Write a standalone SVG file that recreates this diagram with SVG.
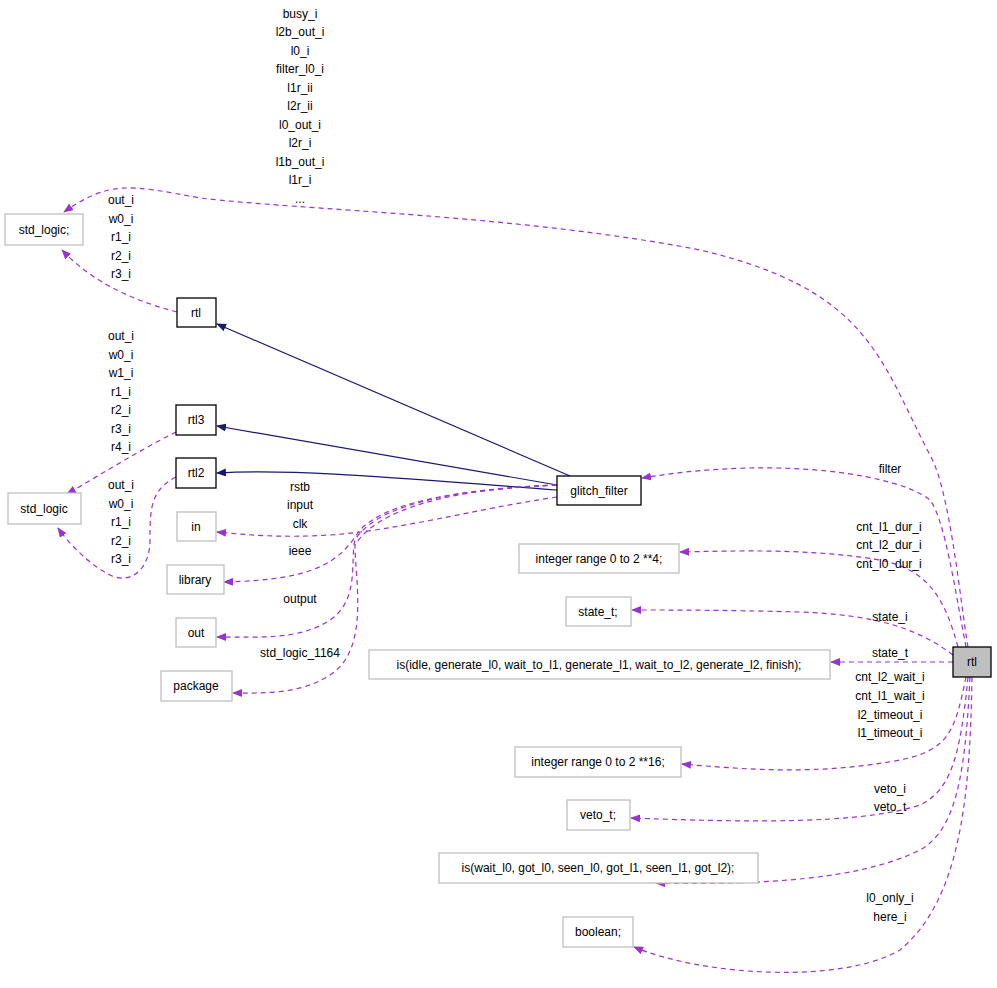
<svg xmlns="http://www.w3.org/2000/svg" width="997" height="988" viewBox="0 0 997 988">
<defs>
<marker id="ap" markerWidth="10" markerHeight="8" refX="9" refY="4" orient="auto" markerUnits="userSpaceOnUse"><path d="M0,0 L10,4 L0,8 Z" fill="#9a32cd"/></marker>
<marker id="an" markerWidth="10" markerHeight="8" refX="9" refY="4" orient="auto" markerUnits="userSpaceOnUse"><path d="M0,0 L10,4 L0,8 Z" fill="#191970"/></marker>
</defs>
<style>
text{font-family:"Liberation Sans",Arial,sans-serif;font-size:12px;fill:#000;text-anchor:middle}
.g rect{fill:#fff;stroke:#bfbfbf;stroke-width:1.3}
.b rect{fill:#fff;stroke:#000;stroke-width:1.3}
.d{fill:none;stroke:#9a32cd;stroke-dasharray:5,4;stroke-width:1.2;marker-end:url(#ap)}
.s{fill:none;stroke:#191970;stroke-width:1.2;marker-end:url(#an)}
</style>
<rect width="997" height="988" fill="#fff"/>
<g id="connectors">
<path class="d" d="M968,647 C960,600 950,490 930,455 C880,360 870,290 700,250 C520,215 300,210 200,198 C130,185 110,180 64,212"/>
<path class="d" d="M177,312 C130,300 90,280 62,250"/>
<path class="d" d="M176,432 C140,450 100,475 67,494"/>
<path class="d" d="M176,477 C150,490 150,510 150,540 C150,570 130,585 110,575 C90,565 70,545 58,528"/>
<path class="s" d="M570,476 L217,324"/>
<path class="s" d="M557,485 L217,426"/>
<path class="s" d="M557,490 C420,480 300,468 217,473"/>
<path class="d" d="M557,497 C470,510 400,530 330,535 C280,538 250,535 217,532"/>
<path class="d" d="M557,485 C420,492 380,510 360,530 C340,560 320,580 224,582"/>
<path class="d" d="M557,485 C420,490 370,515 355,540 C350,560 360,600 330,620 C300,640 260,637 217,637"/>
<path class="d" d="M557,485 C420,490 370,520 355,545 C355,580 370,650 330,675 C300,695 260,693 233,693"/>
<path class="d" d="M966,647 C955,590 945,520 930,500 C900,475 780,455 642,478"/>
<path class="d" d="M958,647 C945,600 930,570 880,560 C820,550 760,550 680,552"/>
<path class="d" d="M953,655 C920,630 880,615 800,612 C720,610 680,610 632,610"/>
<path class="d" d="M953,662 L831,662"/>
<path class="d" d="M966,677 C955,730 950,750 900,760 C820,775 750,770 682,764"/>
<path class="d" d="M968,677 C960,760 950,790 920,805 C860,825 740,822 631,818"/>
<path class="d" d="M970,677 C965,780 955,830 920,850 C860,880 760,885 656,883"/>
<path class="d" d="M972,677 C970,800 960,900 900,950 C840,985 700,975 634,947"/>
</g>
<g id="labels">
<text x="300" y="18">busy_i</text><text x="300" y="36">l2b_out_i</text><text x="300" y="55">l0_i</text><text x="300" y="73">filter_l0_i</text><text x="300" y="92">l1r_ii</text><text x="300" y="110">l2r_ii</text><text x="300" y="129">l0_out_i</text><text x="300" y="147">l2r_i</text><text x="300" y="166">l1b_out_i</text><text x="300" y="184">l1r_i</text><text x="300" y="203">...</text>
<text x="121" y="204">out_i</text><text x="121" y="223">w0_i</text><text x="121" y="241">r1_i</text><text x="121" y="260">r2_i</text><text x="121" y="278">r3_i</text>
<text x="121" y="340">out_i</text><text x="121" y="359">w0_i</text><text x="121" y="377">w1_i</text><text x="121" y="396">r1_i</text><text x="121" y="414">r2_i</text><text x="121" y="433">r3_i</text><text x="121" y="451">r4_i</text>
<text x="121" y="489">out_i</text><text x="121" y="508">w0_i</text><text x="121" y="526">r1_i</text><text x="121" y="545">r2_i</text><text x="121" y="563">r3_i</text>
<text x="300" y="491">rstb</text><text x="300" y="509">input</text><text x="300" y="528">clk</text>
<text x="300" y="555">ieee</text><text x="300" y="603">output</text><text x="300" y="657">std_logic_1164</text>
<text x="890" y="473">filter</text>
<text x="889" y="531">cnt_l1_dur_i</text><text x="889" y="549">cnt_l2_dur_i</text><text x="889" y="568">cnt_l0_dur_i</text>
<text x="890" y="621">state_i</text><text x="890" y="657">state_t</text>
<text x="890" y="681">cnt_l2_wait_i</text><text x="890" y="700">cnt_l1_wait_i</text><text x="890" y="719">l2_timeout_i</text><text x="890" y="737">l1_timeout_i</text>
<text x="890" y="793">veto_i</text><text x="890" y="811">veto_t</text>
<text x="890" y="902">l0_only_i</text><text x="890" y="921">here_i</text>
</g>
<g id="n_stdlogic_semi" class="g"><rect x="5" y="214" width="78" height="31"/><text x="44" y="234">std_logic;</text></g>
<g id="n_rtl_left" class="b"><rect x="177" y="298" width="39" height="29"/><text x="196" y="317">rtl</text></g>
<g id="n_rtl3" class="b"><rect x="176" y="405" width="40" height="30"/><text x="196" y="424">rtl3</text></g>
<g id="n_rtl2" class="b"><rect x="176" y="458" width="40" height="30"/><text x="196" y="477">rtl2</text></g>
<g id="n_stdlogic" class="g"><rect x="8" y="493" width="73" height="31"/><text x="44" y="513">std_logic</text></g>
<g id="n_in" class="g"><rect x="177" y="512" width="39" height="29"/><text x="196" y="531">in</text></g>
<g id="n_library" class="g"><rect x="167" y="565" width="57" height="29"/><text x="195" y="584">library</text></g>
<g id="n_out" class="g"><rect x="176" y="618" width="40" height="29"/><text x="196" y="637">out</text></g>
<g id="n_package" class="g"><rect x="161" y="671" width="71" height="30"/><text x="196" y="690">package</text></g>
<g id="n_glitch" class="b"><rect x="557" y="476" width="84" height="29"/><text x="599" y="495">glitch_filter</text></g>
<g id="n_int4" class="g"><rect x="519" y="544" width="160" height="29"/><text x="599" y="563">integer range 0 to 2 **4;</text></g>
<g id="n_statet" class="g"><rect x="566" y="597" width="65" height="29"/><text x="598" y="616">state_t;</text></g>
<g id="n_isidle" class="g"><rect x="369" y="650" width="461" height="29"/><text x="599" y="669">is(idle, generate_l0, wait_to_l1, generate_l1, wait_to_l2, generate_l2, finish);</text></g>
<g id="n_rtl" ><rect x="953" y="647" width="38" height="30" fill="#bfbfbf" stroke="#000" stroke-width="1.3"/><text x="972" y="666">rtl</text></g>
<g id="n_int16" class="g"><rect x="515" y="747" width="166" height="30"/><text x="598" y="766">integer range 0 to 2 **16;</text></g>
<g id="n_vetot" class="g"><rect x="567" y="800" width="63" height="30"/><text x="598" y="819">veto_t;</text></g>
<g id="n_iswait" class="g"><rect x="439" y="853" width="319" height="30"/><text x="598" y="872">is(wait_l0, got_l0, seen_l0, got_l1, seen_l1, got_l2);</text></g>
<g id="n_boolean" class="g"><rect x="563" y="917" width="70" height="30"/><text x="598" y="936">boolean;</text></g>
</svg>
